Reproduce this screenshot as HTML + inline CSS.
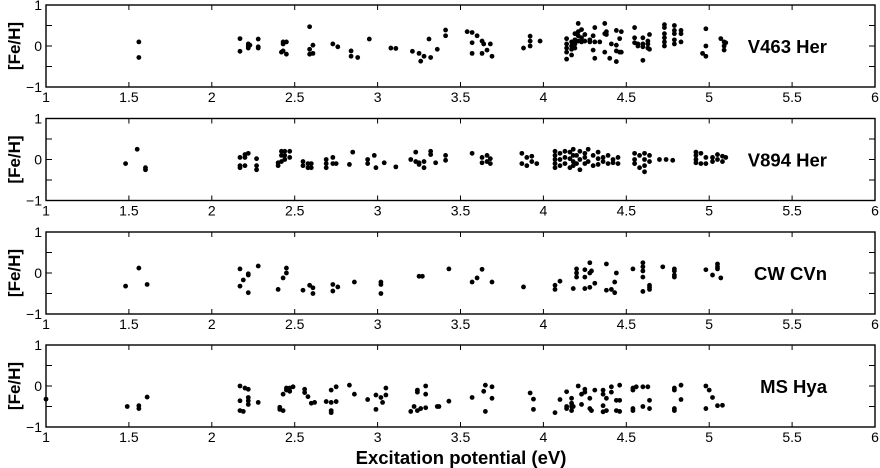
<!DOCTYPE html>
<html><head><meta charset="utf-8">
<style>
html,body{margin:0;padding:0;background:#fff;}
svg{display:block;font-family:"Liberation Sans",Arial,sans-serif;}
</style></head>
<body>
<svg id="chart" width="880" height="468" viewBox="0 0 880 468" xmlns="http://www.w3.org/2000/svg"></svg>
<script>
// Data: grouped by excitation potential; each x has a list of [Fe/H] values
const panelNames = ["V463 Her","V894 Her","CW CVn","MS Hya"];
const xTicks = [1,1.5,2,2.5,3,3.5,4,4.5,5,5.5,6];
const xTickLabels = ["1","1.5","2","2.5","3","3.5","4","4.5","5","5.5","6"];
const yTickLabels = ["1","0","\u22121"];

const v463X = [1.56,2.17,2.22,2.23,2.28,2.42,2.43,2.45,2.59,2.61,2.73,2.76,2.84,2.88,2.95,3.08,3.11,3.21,3.25,3.26,3.28,3.31,3.32,3.36,3.41,3.54,3.57,3.6,3.63,3.64,3.66,3.68,3.69,3.88,3.92,3.98,4.14,4.17,4.19,4.21,4.23,4.25,4.28,4.3,4.31,4.34,4.37,4.38,4.4,4.41,4.44,4.46,4.47,4.55,4.57,4.6,4.63,4.64,4.73,4.79,4.83,4.96,4.98,5.07,5.09,5.1];
const v463Y = [[0.1,-0.28],[0.18,-0.13],[0.05,0,-0.05],[0.02],[0.17,-0.02,-0.05],[-0.15],[0.1,0.05,-0.12],[0.1,-0.2],[0.47,-0.08,-0.2],[0.02,-0.18],[0.05],[-0.02],[-0.12,-0.25],[-0.28],[0.17],[-0.05],[-0.06],[-0.13],[-0.18],[-0.37],[-0.25],[0.17],[-0.28],[-0.08],[0.39,0.25],[0.35],[0.33,0.08,-0.18],[0.25],[0.12,-0.18],[0.05],[-0.1],[0.05],[-0.25],[-0.05],[0.24,0.12,0],[0.12],[0.18,0.05,-0.05,-0.15,-0.32],[0.1,0,-0.08,-0.22],[0.3,0.15,0.05,-0.05],[0.55,0.35,0.25,0.12],[0.4,0.2,0.1],[0.28,0.12],[0.15,0.1],[0.25,-0.1],[0.45,0.1,-0.3],[0.1],[0.55,0.3,-0.15],[0.35,0.28],[-0.3],[0.05],[0.38,0.02,-0.12,-0.38],[0.18,-0.15],[0.35,-0.15],[0.45,0.2,0.08],[0.05,0],[0.2,0.05,-0.02,-0.35],[0.12,0.05,-0.05],[0.28,-0.08],[0.52,0.45,0.3,0.2,0.1,0],[0.5,0.38,0.3,0.15,0.05],[0.38,0.3,0.1],[-0.18],[0.42,0,-0.25],[0.18],[0.1,0,-0.1],[0.08]];

const v894X = [1.48,1.55,1.6,2.17,2.2,2.22,2.27,2.4,2.42,2.44,2.47,2.55,2.58,2.6,2.69,2.73,2.75,2.83,2.85,2.94,2.98,2.99,3.04,3.11,3.2,3.23,3.25,3.28,3.32,3.35,3.41,3.57,3.63,3.66,3.68,3.87,3.9,3.93,3.96,4.07,4.1,4.13,4.16,4.18,4.2,4.22,4.25,4.27,4.3,4.33,4.36,4.39,4.42,4.45,4.55,4.58,4.61,4.64,4.7,4.74,4.78,4.92,4.95,4.98,5.02,5.05,5.08,5.1];
const v894Y = [[-0.1],[0.25],[-0.2,-0.25],[0.05,-0.15,-0.2],[0.12,0.05,-0.15],[0.15],[0.02,-0.15,-0.25],[-0.15,-0.08],[0.2,0.1,-0.05],[0.2,0.1,0],[0.2,0.05],[-0.05,-0.15],[-0.1,-0.2],[-0.2,-0.1],[-0.1,-0.2,0],[0.05,-0.1],[-0.1],[-0.12],[0.18],[0,-0.1],[0.1],[-0.2],[-0.08],[-0.18],[0],[0.18,-0.05],[-0.08,-0.12],[-0.2,-0.05],[0.2,0.12],[-0.08],[0.1,-0.02],[0.15],[0.05,-0.08],[0.1,-0.05],[0.02,-0.1],[0.15,-0.1],[0.05,-0.15],[-0.05,0.08],[-0.1],[0.2,0.1,0,-0.1,-0.2],[0.15,0,-0.15],[0.2,0.05,-0.1],[0.18,0.02,-0.2],[0.25,0.1,-0.05,-0.15],[0.1,-0.1],[0.2,0,-0.25],[0.15,0.05,-0.1],[0.25,-0.05],[0.1,-0.15],[0.18,0.02,-0.12],[0.05,-0.05],[0.1,-0.1],[0,-0.08],[0.05,-0.1],[0.15,0,-0.1],[0.1,-0.2],[0.15,0,-0.15,-0.3],[0.1,-0.05],[0],[0],[-0.02],[0.18,0.1,0,-0.08],[0.15,-0.1],[0.05,-0.1],[0.05,-0.05],[0.12,0],[0.08,-0.05],[0.05]];

const cwX = [1.48,1.56,1.61,2.17,2.19,2.22,2.28,2.4,2.43,2.45,2.55,2.59,2.61,2.73,2.76,2.86,3.02,3.25,3.27,3.43,3.57,3.6,3.63,3.69,3.88,4.07,4.1,4.18,4.2,4.25,4.28,4.29,4.31,4.38,4.41,4.43,4.44,4.54,4.6,4.64,4.72,4.79,4.98,5.02,5.05,5.07];
const cwY = [[-0.32],[0.12],[-0.28],[0.1,-0.32],[-0.17],[-0.05,-0.02,-0.48],[0.17],[-0.4],[-0.12],[0.12,0],[-0.42],[-0.3],[-0.36,-0.5],[-0.28,-0.44],[-0.34],[-0.22],[-0.22,-0.28,-0.5],[-0.08],[-0.08],[0.1],[-0.22],[-0.12],[0.09],[-0.22],[-0.34],[-0.3,-0.4],[-0.2],[-0.38],[0.1,0,-0.1],[0.08,-0.1,-0.38],[0.25,0,-0.35],[0.05],[-0.25],[0.22,-0.42],[-0.4],[-0.48,-0.22],[0],[0.1],[0.25,0.15,0.05,-0.1,-0.45],[-0.3,-0.35,-0.4],[0.15],[0.1,0.05,-0.05,-0.1],[0.08],[-0.05],[0.22,0.15,0.1],[-0.12]];

const msX = [1.0,1.49,1.56,1.61,2.17,2.19,2.2,2.22,2.28,2.41,2.43,2.45,2.47,2.49,2.56,2.58,2.6,2.62,2.69,2.72,2.75,2.83,2.86,2.94,2.99,3.02,3.03,3.05,3.2,3.22,3.24,3.26,3.29,3.36,3.37,3.43,3.57,3.64,3.65,3.69,3.92,3.94,4.07,4.1,4.14,4.17,4.18,4.21,4.23,4.25,4.28,4.29,4.31,4.36,4.38,4.41,4.44,4.46,4.54,4.56,4.6,4.63,4.64,4.79,4.83,4.98,5.0,5.02,5.05,5.08];
const msY = [[-0.32],[-0.5],[-0.48,-0.55],[-0.27],[0,-0.36,-0.6],[-0.62],[-0.05],[-0.08,-0.28,-0.36,-0.45],[-0.4],[-0.52,-0.57],[-0.6,-0.2],[-0.1,-0.05],[-0.05,-0.13],[-0.02],[-0.08,-0.16],[-0.26],[-0.42],[-0.4],[-0.38],[-0.1,-0.6,-0.65,-0.4],[-0.38,-0.02],[0.02],[-0.2],[-0.33],[-0.22,-0.57],[-0.28],[-0.4],[-0.22,-0.05],[-0.62],[-0.5],[-0.6,-0.1,-0.15],[-0.55],[0,-0.2,-0.53],[-0.5],[-0.5],[-0.37],[-0.28],[-0.13],[0.02,-0.62],[-0.02,-0.3],[-0.17],[-0.32,-0.57],[-0.65],[-0.33],[-0.14,-0.55,-0.5],[-0.3,-0.42,-0.5,-0.6],[-0.5],[0],[-0.2,-0.45],[-0.08,-0.15],[-0.3,-0.55],[-0.6],[-0.1],[-0.1,-0.2,-0.48,-0.63],[-0.3,-0.6],[-0.02,-0.15],[-0.35,-0.6],[0.02,-0.35,-0.62],[-0.05,-0.1,-0.55,-0.6],[-0.02],[-0.02,-0.5],[-0.02],[-0.35,-0.55],[-0.05,-0.1,-0.55,-0.6],[0.02,-0.33],[0,-0.55],[-0.1],[-0.28],[-0.48],[-0.47]];

const seriesX = [v463X, v894X, cwX, msX];
const seriesY = [v463Y, v894Y, cwY, msY];

const NS = "http://www.w3.org/2000/svg";
const svg = document.getElementById("chart");
const L = 46, R = 875, H = 82;
const tops = [5, 118.5, 232, 345];
function xs(v){ return L + (v - 1) / 5 * (R - L); }
function ys(v, top){ return top + (1 - v) / 2 * H; }
function mk(tag, attrs, parent){
  const e = document.createElementNS(NS, tag);
  for (const k in attrs) e.setAttribute(k, attrs[k]);
  (parent || svg).appendChild(e);
  return e;
}

panelNames.forEach((name, p) => {
  const top = tops[p], bot = top + H;
  const g = mk("g", {});
  
  
  const frame = mk("rect", {x: L, y: top, width: R - L, height: H, fill: "none", stroke: "#000", "stroke-width": 1.4}, g);
  
  
  xTicks.forEach((t, i) => {
    const x = xs(t);
    if (i > 0 && i < xTicks.length - 1) {
      mk("line", {x1: x, x2: x, y1: top, y2: top + 5, stroke: "#000", "stroke-width": 1}, g);
      mk("line", {x1: x, x2: x, y1: bot, y2: bot - 5, stroke: "#000", "stroke-width": 1}, g);
    }
    const tl = mk("text", {x: x, y: bot + 15, "font-size": 14, "text-anchor": "middle", fill: "#000"}, g);
    tl.textContent = xTickLabels[i];
    
    
  });
  [0.5, 0, -0.5].forEach(t => {
    const y = ys(t, top);
    mk("line", {x1: L, x2: L + 6, y1: y, y2: y, stroke: "#000", "stroke-width": 1}, g);
    mk("line", {x1: R, x2: R - 6, y1: y, y2: y, stroke: "#000", "stroke-width": 1}, g);
  });
  [1, 0, -1].forEach((t, i) => {
    const yl = mk("text", {x: 42, y: ys(t, top) + 5, "font-size": 14, "text-anchor": "end", fill: "#000"}, g);
    yl.textContent = yTickLabels[i];
    
    
  });
  const yt = mk("text", {x: 0, y: 0, "font-size": 17, "font-weight": "bold", "text-anchor": "middle", fill: "#000",
    transform: "translate(20," + (top + H / 2) + ") rotate(-90)"}, g);
  yt.textContent = "[Fe/H]";
  
  
  const lab = mk("text", {x: 827, y: top + H / 2 + 7, "font-size": 18.5, "font-weight": "bold", "text-anchor": "end", fill: "#000"}, g);
  lab.textContent = name;
  
  
  const xsArr = seriesX[p], ysArr = seriesY[p];
  xsArr.forEach((xv, i) => {
    ysArr[i].forEach(yv => {
      const c = mk("circle", {cx: xs(xv), cy: ys(yv, top), r: 2.4, fill: "#000"}, g);
      
      
    });
  });
});

const xt = mk("text", {x: 461, y: 464, "font-size": 18.5, "font-weight": "bold", "text-anchor": "middle", fill: "#000"});
xt.textContent = "Excitation potential (eV)";


</script>
</body></html>
